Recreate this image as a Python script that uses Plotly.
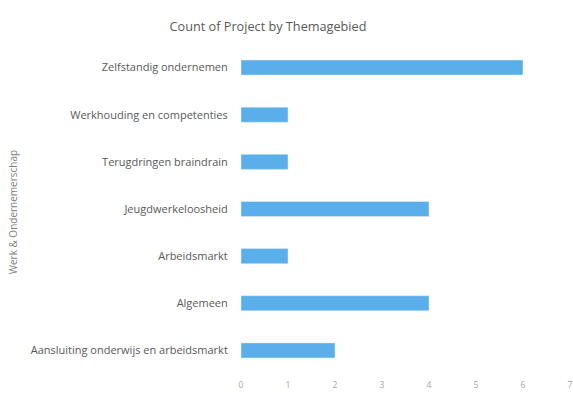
import plotly.graph_objects as go

# ── Data ──────────────────────────────────────────────────────────────────────
themas = [
    "Aansluiting onderwijs en arbeidsmarkt",
    "Algemeen",
    "Arbeidsmarkt",
    "Jeugdwerkeloosheid",
    "Terugdringen braindrain",
    "Werkhouding en competenties",
    "Zelfstandig ondernemen",
]
aantal = [2, 4, 1, 4, 1, 1, 6]
x_ticks = [0, 1, 2, 3, 4, 5, 6, 7]

fig = go.Figure()
fig.add_trace(go.Bar(
    x=aantal, y=themas, orientation="h",
    marker_color="#5aafea", width=0.32,
))

fig.update_layout(
    width=573, height=394,
    margin=dict(l=241, r=3, t=44, b=20),
    paper_bgcolor="white", plot_bgcolor="white",
    font=dict(family="Open Sans", color="#595959"),
    title=dict(text="Count of Project by Themagebied", x=268 / 573, xanchor="center",
               y=1 - 27 / 394, yanchor="middle", font=dict(size=12.7, color="#595959")),
    showlegend=False,
)
fig.update_xaxes(range=[0, 7], tickvals=x_ticks, showgrid=False, zeroline=False,
                 showline=False, tickfont=dict(size=8.5, color="#a6a6a6"),
                 ticks="outside", ticklen=3, tickcolor="rgba(0,0,0,0)",
                 ticklabeloverflow="allow", automargin=False)
fig.update_yaxes(showgrid=False, zeroline=False, showline=False,
                 tickfont=dict(size=11, color="#595959"),
                 ticks="outside", ticklen=10, tickcolor="rgba(0,0,0,0)",
                 automargin=False)
fig.add_annotation(text="Werk & Ondernemerschap", textangle=-90,
                   xref="paper", yref="paper", x=-0.693, y=0.49,
                   xanchor="center", yanchor="middle",
                   showarrow=False, font=dict(size=10, color="#7f7f7f"))

# drop the browser's default 8px body margin so the figure fills the window exactly
fig.write_html("out.html", config={"displayModeBar": False},
               post_script="document.body.style.margin='0';document.body.style.overflow='hidden';")
